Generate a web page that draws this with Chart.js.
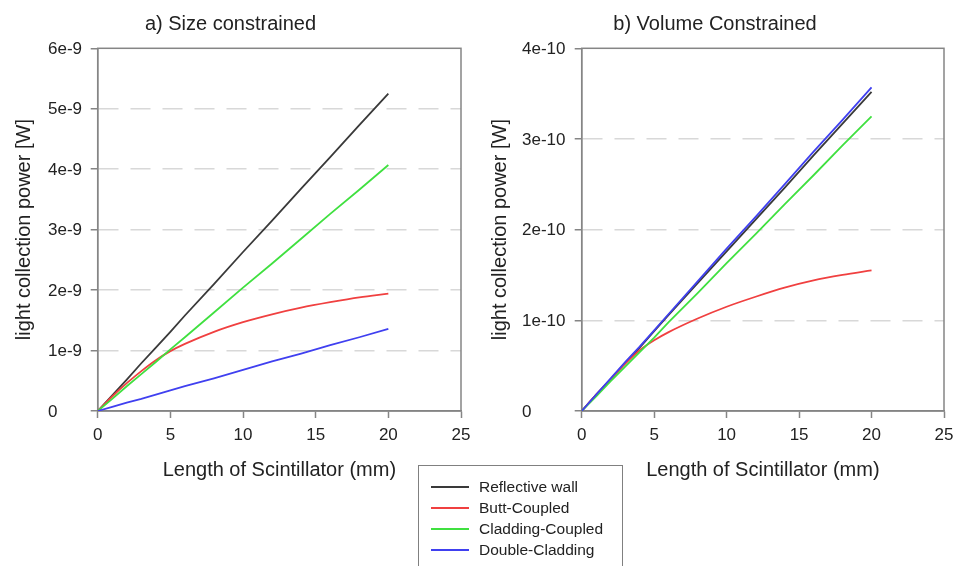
<!DOCTYPE html>
<html>
<head>
<meta charset="utf-8">
<script src="https://cdn.jsdelivr.net/npm/chart.js@4/dist/chart.umd.min.js"></script>
<style>
  html, body { margin: 0; padding: 0; background: #fff; overflow: hidden; }
  body { width: 956px; height: 566px; position: relative; font-family: "Liberation Sans", Arial, sans-serif; }
  .wrap { position: absolute; top: 0; }
  #wrapA { left: 0; }
  #wrapB { left: 486px; }
  #legend {
    position: absolute; left: 418px; top: 465px; width: 205px; height: 120px;
    border: 1.5px solid #808080; box-sizing: border-box; padding-top: 11px;
  }
  .leg-row { height: 20.8px; display: flex; align-items: center; font-size: 15.5px; color: #222; }
  .leg-line { width: 38px; height: 0; border-top: 2px solid; margin-left: 12px; margin-right: 10px; }
</style>
</head>
<body>
<div class="wrap" id="wrapA"><canvas id="chartA" width="504" height="490"></canvas></div>
<div class="wrap" id="wrapB"><canvas id="chartB" width="566" height="490"></canvas></div>
<div id="legend"></div>

<script>
  // series names / colours shared by both panels
  var seriesNames = ['Reflective wall', 'Butt-Coupled', 'Cladding-Coupled', 'Double-Cladding'];
  var seriesColors = ['#3a3a3a', '#f04040', '#40e040', '#4040f0'];
  var seriesCurved = [false, true, false, false];

  // x = length of scintillator (mm)
  var lengths = [0, 1, 2, 3, 4, 5, 6, 8, 10, 12, 14, 16, 18, 20];

  // a) size constrained, values in units of 1e-9 W
  var sizeReflective = [0, 0.26, 0.52, 0.79, 1.05, 1.31, 1.58, 2.10, 2.63, 3.15, 3.68, 4.20, 4.73, 5.25];
  var sizeButt       = [0, 0.24, 0.46, 0.66, 0.84, 0.99, 1.11, 1.31, 1.47, 1.60, 1.71, 1.80, 1.88, 1.94];
  var sizeCladding   = [0, 0.20, 0.41, 0.61, 0.81, 1.02, 1.22, 1.63, 2.04, 2.44, 2.85, 3.26, 3.66, 4.07];
  var sizeDouble     = [0, 0.07, 0.14, 0.20, 0.27, 0.34, 0.41, 0.54, 0.68, 0.82, 0.95, 1.09, 1.22, 1.36];
  var sizeTicks = ['0', '1e-9', '2e-9', '3e-9', '4e-9', '5e-9', '6e-9'];

  // b) volume constrained, values in units of 1e-10 W
  var volReflective = [0, 0.18, 0.35, 0.53, 0.70, 0.88, 1.06, 1.41, 1.76, 2.11, 2.46, 2.82, 3.17, 3.52];
  var volButt       = [0, 0.18, 0.35, 0.52, 0.67, 0.78, 0.87, 1.02, 1.15, 1.26, 1.36, 1.44, 1.50, 1.55];
  var volCladding   = [0, 0.16, 0.33, 0.49, 0.65, 0.81, 0.98, 1.30, 1.63, 1.95, 2.28, 2.60, 2.93, 3.25];
  var volDouble     = [0, 0.18, 0.36, 0.54, 0.71, 0.89, 1.07, 1.43, 1.79, 2.14, 2.50, 2.86, 3.21, 3.57];
  var volTicks = ['0', '1e-10', '2e-10', '3e-10', '4e-10'];

  var xTicks = [0, 5, 10, 15, 20, 25];

  var TEXT = '#222';
  var AXIS = '#858585';
  var FONT = '"Liberation Sans", Arial, sans-serif';

  // grey box around the plot area
  var framePlugin = {
    id: 'frame',
    beforeDatasetsDraw: function (chart) {
      var a = chart.chartArea, ctx = chart.ctx;
      ctx.save();
      ctx.strokeStyle = AXIS;
      ctx.lineWidth = 1.5;
      ctx.strokeRect(a.left, a.top, a.right - a.left, a.bottom - a.top);
      ctx.restore();
    }
  };

  // y tick labels are left aligned in the original, so draw them here
  var yLabelPlugin = {
    id: 'yLabels',
    afterDraw: function (chart, args, opts) {
      var s = chart.scales.y, ctx = chart.ctx;
      ctx.save();
      ctx.fillStyle = TEXT;
      ctx.font = '17px ' + FONT;
      ctx.textAlign = 'left';
      ctx.textBaseline = 'middle';
      s.ticks.forEach(function (t, i) {
        ctx.fillText(opts.labels[i], opts.x, s.getPixelForValue(t.value) + 1);
      });
      ctx.restore();
    }
  };

  function makeDatasets(seriesList) {
    return seriesList.map(function (vals, i) {
      return {
        label: seriesNames[i],
        data: vals.map(function (v, k) { return { x: lengths[k], y: v }; }),
        borderColor: seriesColors[i],
        borderWidth: 1.8,
        pointRadius: 0,
        cubicInterpolationMode: seriesCurved[i] ? 'monotone' : 'default',
        tension: 0,
        order: 4 - i,
      };
    });
  }

  function makeChart(id, title, seriesList, yLabels, o) {
    var yMax = yLabels.length - 1;
    return new Chart(document.getElementById(id), {
      type: 'line',
      data: { datasets: makeDatasets(seriesList) },
      options: {
        responsive: false,
        animation: false,
        layout: { padding: { left: 0, right: o.padRight, top: 0, bottom: 0 } },
        plugins: {
          legend: { display: false },
          tooltip: { enabled: false },
          title: {
            display: true, text: title, color: TEXT,
            font: { family: FONT, size: 20, weight: 'normal' },
            padding: { top: 12, bottom: 12.3 },
          },
          yLabels: { labels: yLabels, x: o.labelX },
        },
        scales: {
          x: {
            type: 'linear', min: 0, max: 25,
            afterBuildTicks: function (s) { s.ticks = xTicks.map(function (v) { return { value: v }; }); },
            afterFit: function (s) { s.height = 79; },
            ticks: { color: TEXT, font: { family: FONT, size: 17 }, padding: 7, maxRotation: 0 },
            grid: { drawOnChartArea: false, tickLength: 7, tickColor: AXIS, tickWidth: 1.5 },
            border: { color: AXIS, width: 1.5 },
            title: {
              display: true, text: 'Length of Scintillator (mm)', color: TEXT,
              font: { family: FONT, size: 20 }, padding: { top: 0, bottom: 8 },
            },
          },
          y: {
            type: 'linear', min: 0, max: yMax,
            ticks: { stepSize: 1, display: false },
            afterFit: function (s) { s.width = o.yWidth; },
            grid: {
              color: function (ctx) {
                var v = ctx.tick ? ctx.tick.value : 0;
                return (v === 0 || v === yMax) ? 'rgba(0,0,0,0)' : '#d8d8d8';
              },
              lineWidth: 1.5, tickLength: 7, tickColor: AXIS, tickWidth: 1.5, tickBorderDash: [],
            },
            border: { color: AXIS, width: 1.5, dash: [20, 12] },
            title: {
              display: true, text: 'light collection power [W]', color: TEXT,
              font: { family: FONT, size: 20 }, padding: { top: o.yTitlePad, bottom: 0 },
            },
          },
        },
      },
      plugins: [framePlugin, yLabelPlugin],
    });
  }

  makeChart('chartA', 'a) Size constrained',
    [sizeReflective, sizeButt, sizeCladding, sizeDouble], sizeTicks,
    { padRight: 43, yWidth: 97.7, yTitlePad: 12, labelX: 48 });

  makeChart('chartB', 'b) Volume Constrained',
    [volReflective, volButt, volCladding, volDouble], volTicks,
    { padRight: 108, yWidth: 95.7, yTitlePad: 2, labelX: 36 });

  document.getElementById('legend').innerHTML = seriesNames.map(function (name, i) {
    return '<div class="leg-row"><span class="leg-line" style="border-color:' + seriesColors[i] + '"></span>' +
      '<span>' + name + '</span></div>';
  }).join('');
</script>
</body>
</html>
